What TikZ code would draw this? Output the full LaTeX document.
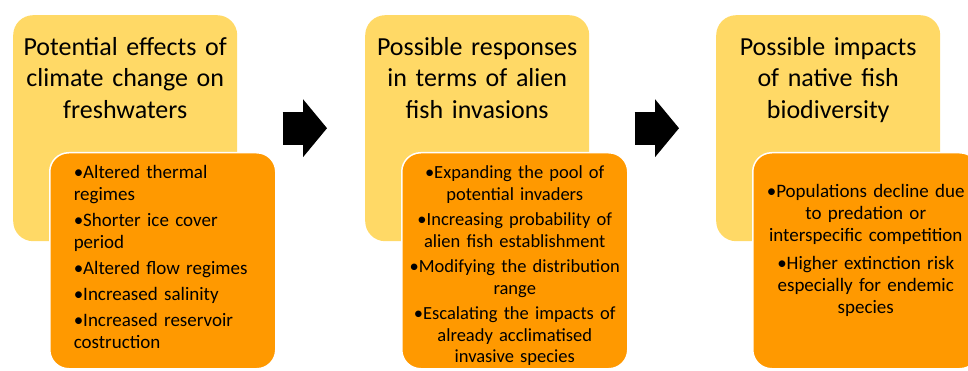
\documentclass[tikz,border=0pt]{standalone}
\usepackage{fontspec}
\setmainfont{Carlito}
\usepackage{xcolor}
\definecolor{gold}{HTML}{FFD966}
\definecolor{amber}{HTML}{FF9900}
\usepackage{tikz}
\usetikzlibrary{arrows.meta,positioning,calc}

\begin{document}
\begin{tikzpicture}[
  x=1pt, y=-1pt,
  panel/.style={fill=gold, rounded corners=20pt, inner sep=0pt, anchor=north west,
    text width=224pt, align=center, text height=40pt, text depth=186pt,
    font=\fontsize{26}{31.5}\selectfont},
  list/.style={fill=amber, draw=white, line width=1.5pt, rounded corners=19pt,
    anchor=north west, inner ysep=0pt, inner xsep=2pt, text width=222pt,
    align=center, text height=26pt, text depth=190pt,
    font=\fontsize{19}{22}\selectfont},
  leftlist/.style={list, inner xsep=24pt, text width=178pt, align=left},
  flow/.style={line width=33pt, -{Triangle[length=24pt, width=58pt, line width=0pt]}}
]
  \useasboundingbox (0,0) rectangle (968,371);
  \clip (0,0) rectangle (968,371);

  \node[panel] (p1) at (13,15) {Potential effects of\\climate change on\\freshwaters};
  \node[panel] (p2) at (365,15) {Possible responses\\in terms of alien\\fish invasions};
  \node[panel] (p3) at (716,15) {Possible impacts\\of native fish\\biodiversity};

  \node[leftlist] (l1) at (49,152)
    {•Altered thermal\\regimes\\[4pt]•Shorter ice cover\\period\\[4pt]%
     •Altered flow regimes\\[4pt]•Increased salinity\\[4pt]%
     •Increased reservoir\\costruction};
  \node[list, font=\fontsize{18.5}{21.5}\selectfont] (l2) at (401,152)
    {•Expanding the pool of\\potential invaders\\[4pt]%
     •Increasing probability of\\alien fish establishment\\[4pt]%
     •Modifying the distribution\\range\\[4pt]%
     •Escalating the impacts of\\already acclimatised\\invasive species};
  \node[list, text height=45pt, text depth=171pt] (l3) at (752,152)
    {•Populations decline due\\to predation or\\interspecific competition\\[6pt]%
     •Higher extinction risk\\especially for endemic\\species};

  \draw[flow] ($(l1.east |- p1.center)+(6,0)$) -- ($(p2.west |- p1.center)+(-38,0)$);
  \draw[flow] ($(l2.east |- p2.center)+(6,0)$) -- ($(p3.west |- p2.center)+(-37,0)$);
\end{tikzpicture}
\end{document}
